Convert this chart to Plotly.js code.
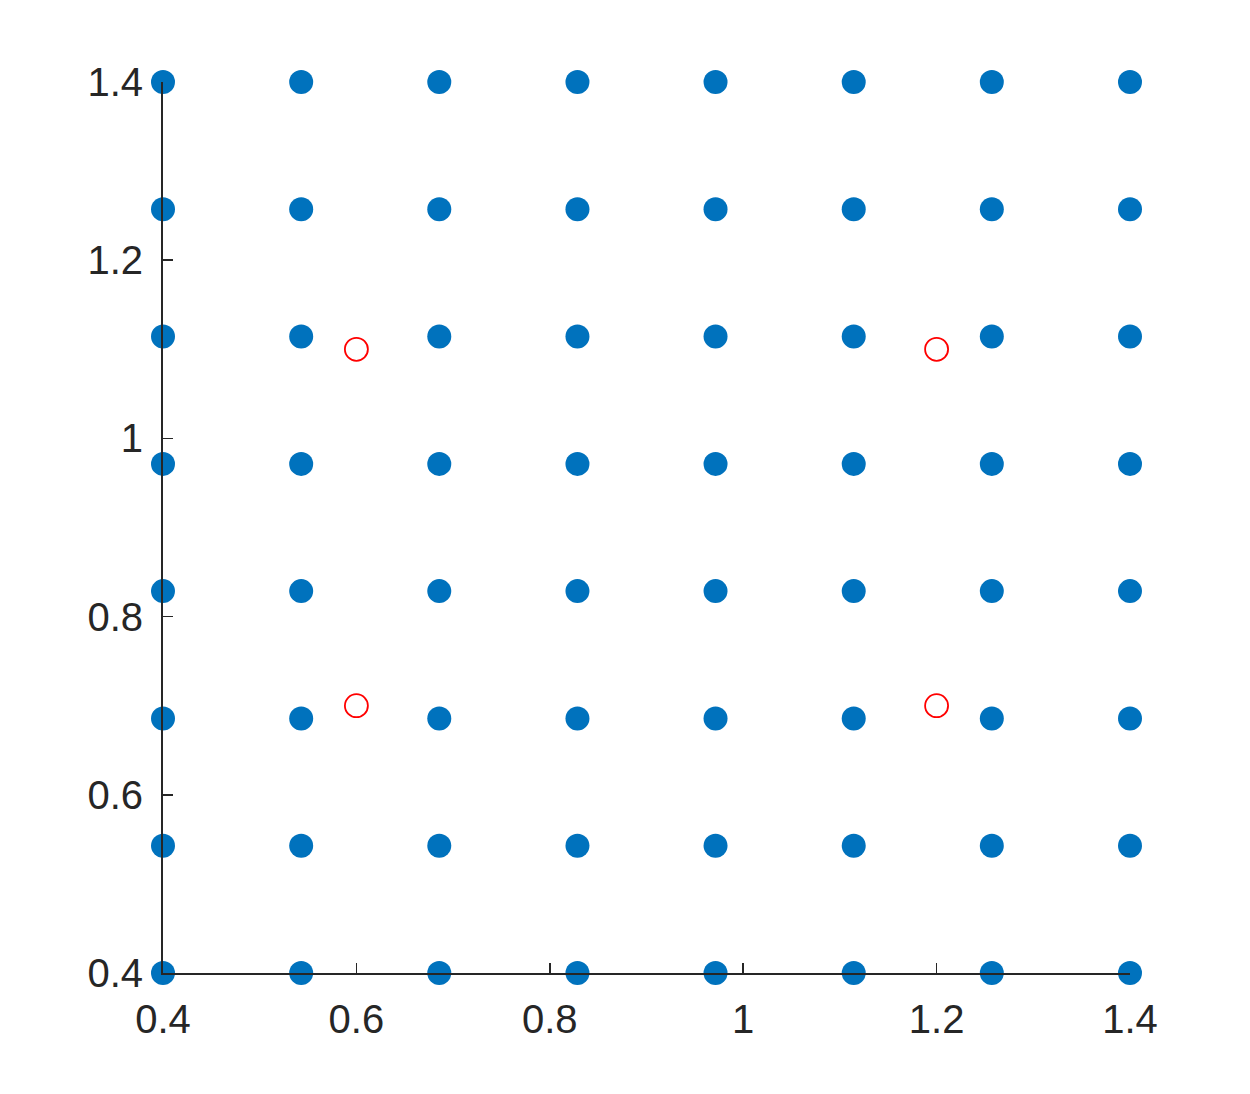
<!DOCTYPE html>
<html>
<head>
<meta charset="utf-8">
<script src="https://cdn.plot.ly/plotly-3.0.1.min.js"></script>
<style>html,body{margin:0;padding:0;background:#fff;}#chart{width:1250px;height:1094px;}</style>
</head>
<body>
<div id="chart"></div>
<script>
// grid coordinates (8 evenly spaced values from 0.4 to 1.4)
const gridVals = [0.4, 0.5429, 0.6857, 0.8286, 0.9714, 1.1143, 1.2571, 1.4];
// red open circles
const redX = [0.6, 0.6, 1.2, 1.2];
const redY = [0.7, 1.1, 0.7, 1.1];
// ticks
const tickVals = [0.4, 0.6, 0.8, 1.0, 1.2, 1.4];
const tickText = ['0.4', '0.6', '0.8', '1', '1.2', '1.4'];

const gx = [], gy = [];
for (const xv of gridVals) {
  for (const yv of gridVals) { gx.push(xv); gy.push(yv); }
}

const traces = [
  {
    x: gx, y: gy, type: 'scatter', mode: 'markers', cliponaxis: false,
    marker: {color: '#0072BD', size: 24, line: {width: 0}},
    hoverinfo: 'skip'
  },
  {
    x: redX, y: redY, type: 'scatter', mode: 'markers', cliponaxis: false,
    marker: {symbol: 'circle-open', color: '#FF0000', size: 23, line: {width: 1.8, color: '#FF0000'}},
    hoverinfo: 'skip'
  }
];

const axisCommon = {
  tickmode: 'array', tickvals: tickVals, ticktext: tickText,
  ticks: 'inside', ticklen: 10, tickwidth: 1.5, tickcolor: '#262626',
  showline: true, linecolor: '#262626', linewidth: 2, mirror: false,
  showgrid: false, zeroline: false,
  tickfont: {family: 'Liberation Sans, Arial, sans-serif', size: 40, color: '#262626'},
  range: [0.4, 1.4], fixedrange: true
};

const layout = {
  width: 1250, height: 1094,
  margin: {l: 163, r: 120, t: 82, b: 121},
  paper_bgcolor: '#ffffff', plot_bgcolor: '#ffffff',
  showlegend: false,
  xaxis: Object.assign({}, axisCommon, {ticklabelstandoff: 10}),
  yaxis: Object.assign({}, axisCommon, {ticklabelstandoff: 10})
};

Plotly.newPlot('chart', traces, layout, {displayModeBar: false, staticPlot: true});
</script>
</body>
</html>
